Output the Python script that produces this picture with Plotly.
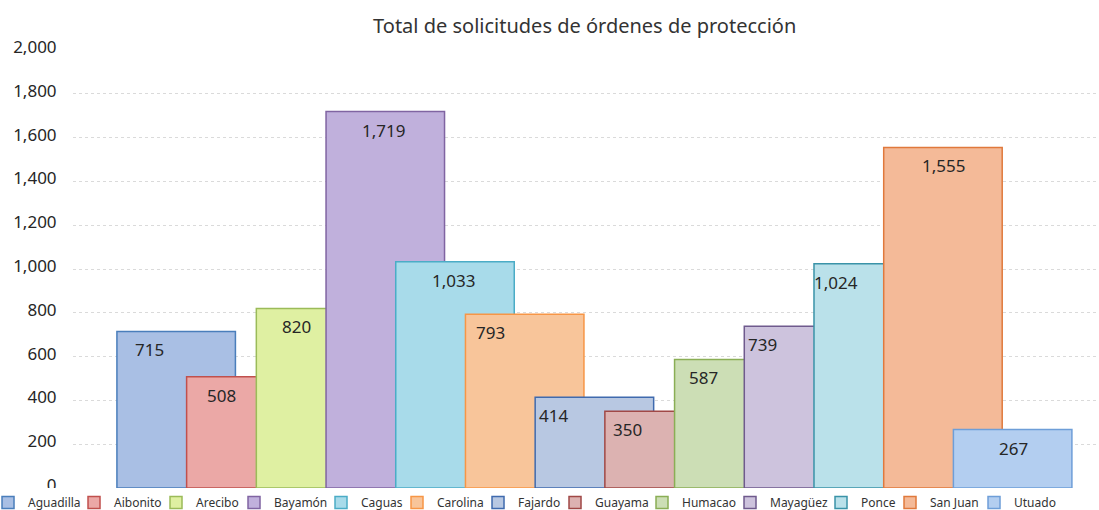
import plotly.graph_objects as go

# Solicitudes por región judicial
regiones = ["Aguadilla", "Aibonito", "Arecibo", "Bayamón", "Caguas", "Carolina", "Fajardo",
            "Guayama", "Humacao", "Mayagüez", "Ponce", "San Juan", "Utuado"]
solicitudes = [715, 508, 820, 1719, 1033, 793, 414, 350, 587, 739, 1024, 1555, 267]
y_ticks = list(range(0, 2001, 200))

# estilos (relleno, borde) por barra
relleno = ["#A9BFE4", "#EBA8A6", "#DFF0A2", "#C0B0DC", "#A8DBEA", "#F8C59A", "#B8C8E2",
           "#DCB2B1", "#CCDEB5", "#CDC3DD", "#BAE1EA", "#F4BA98", "#B3CEF0"]
borde = ["#4A7EBB", "#C0504D", "#9BBB59", "#8064A2", "#4BACC6", "#F79646", "#3F6AAE",
         "#A04846", "#8AAE55", "#6F5A8D", "#3A93A8", "#E0793C", "#6E9ED8"]
# posición horizontal de la etiqueta dentro de cada barra (fracción del paso)
pos_etiqueta = [0.47, 0.50, 0.57, 0.83, 0.83, 0.36, 0.27, 0.32, 0.42, 0.26, 0.32, 0.86, 0.86]
# ancho (px) reservado para cada texto de la leyenda
ancho_leyenda = [41, 37, 33, 42, 31, 36, 32, 42, 43, 46, 24, 39, 41]

ancho = 1.7
fig = go.Figure()
for i, (reg, val) in enumerate(zip(regiones, solicitudes)):
    fig.add_trace(go.Bar(
        x=[i], y=[val], name=reg, width=ancho, offset=0,
        marker=dict(color=relleno[i], line=dict(color=borde[i], width=1.5)),
        legendwidth=ancho_leyenda[i],
        hoverinfo="y+name",
    ))
    fig.add_annotation(x=i + pos_etiqueta[i], y=val, text=f"{val:,}", showarrow=False,
                       yanchor="top", yshift=-5, font=dict(size=17, color="#262626"))

fig.update_layout(
    barmode="overlay",
    width=1099, height=510,
    margin=dict(l=73, r=2, t=50, b=22, autoexpand=False),
    paper_bgcolor="white", plot_bgcolor="white",
    font=dict(family="Noto Sans, sans-serif", color="#262626"),
    title=dict(text="Total de solicitudes de órdenes de protección", x=0.532, xanchor="center",
               y=0.95, yanchor="middle", font=dict(size=20, color="#333333")),
    # y=0 con yanchor top: la leyenda cuenta como "debajo" del área y usa todo el ancho
    legend=dict(orientation="h", x=-0.083, xanchor="left", y=0.0, yanchor="top",
                font=dict(size=12, color="#333333"), itemwidth=30,
                entrywidthmode="pixels", itemclick=False),
    showlegend=True,
)
fig.update_xaxes(range=[-0.63, 14.06], showticklabels=False, showgrid=False, zeroline=False,
                 showline=False)
fig.update_yaxes(range=[0, 2000], tickvals=y_ticks, tickformat=",", showgrid=True,
                 gridcolor="#DADADA", griddash="dot", zeroline=False, showline=False,
                 tickfont=dict(size=17, color="#262626"), ticks="outside", ticklen=12,
                 tickcolor="rgba(0,0,0,0)", ticklabelshift=-3)

# sin margen del body para que la figura ocupe la ventana completa
fig.write_html("out.html", config={"displayModeBar": False},
               post_script="document.body.style.margin='0';")
